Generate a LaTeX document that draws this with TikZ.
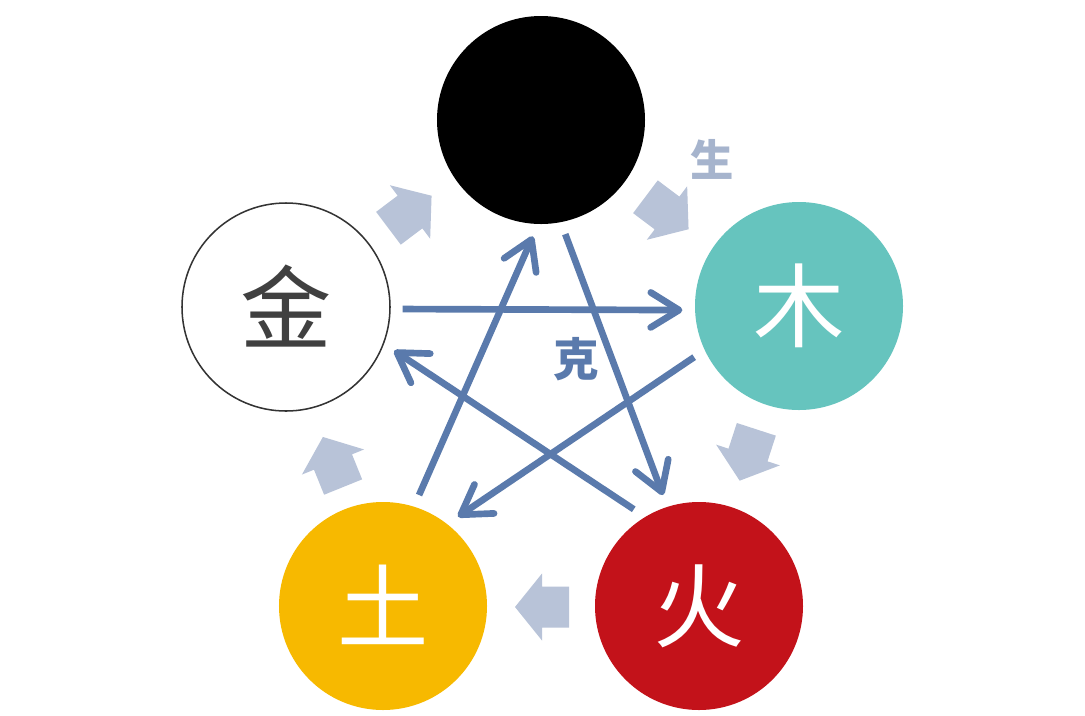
\documentclass[tikz,border=0pt]{standalone}
\usepackage{fontspec}
\usetikzlibrary{arrows.meta}
\newfontfamily\cjk{Noto Sans CJK SC}
\definecolor{shuicol}{HTML}{000000}
\definecolor{mucol}{HTML}{66C4BE}
\definecolor{huocol}{HTML}{C3121A}
\definecolor{tucol}{HTML}{F7B900}
\definecolor{jinline}{HTML}{333333}
\definecolor{jintext}{HTML}{404040}
\definecolor{kecol}{HTML}{5A7AAC}
\definecolor{shengcol}{HTML}{B8C3D8}
\definecolor{shenglabel}{HTML}{A6B4CD}
\tikzset{
  elem/.style={circle,minimum size=6.24cm,inner sep=0pt,outer sep=0.38cm,
    font=\cjk\fontsize{78}{80}\selectfont},
  ke/.style={draw=kecol,line width=0.2cm,
    -{Straight Barb[length=0.85cm,width=1.05cm,round]}},
  shengarrow/.pic={\fill[shengcol] (-27,-20.5) -- (0,-20.5) -- (0,-33.5) -- (27,0)
    -- (0,33.5) -- (0,20.5) -- (-27,20.5) -- cycle;}
}
\begin{document}
\begin{tikzpicture}[x=0.03cm,y=0.03cm]
  \path[use as bounding box,fill=white] (0,0) rectangle (1085,-715);
  \begin{scope}[every node/.style={elem}]
    \node[fill=shuicol] (shui) at (541,-120) {};
    \node[fill=mucol,text=white] (mu) at (799,-306) {\raisebox{0.18cm}{木}};
    \node[fill=huocol,text=white] (huo) at (699,-606) {\raisebox{0.18cm}{火}};
    \node[fill=tucol,text=white] (tu) at (383,-606) {\raisebox{0.18cm}{土}};
    \node[draw=jinline,line width=1.3pt,fill=white,text=jintext] (jin) at (286,-307) {\raisebox{0.18cm}{金}};
  \end{scope}
  \pic[rotate=37] at (410,-212) {shengarrow};
  \pic[rotate=-37] at (667,-213) {shengarrow};
  \pic[rotate=-108] at (748,-455) {shengarrow};
  \pic[rotate=180] at (542,-607) {shengarrow};
  \pic[rotate=112] at (333,-462) {shengarrow};
  \node[font=\cjk\bfseries\fontsize{37}{40}\selectfont,text=shenglabel] (sheng) at (712,-159) {生};
  \draw[ke] (jin.-1) -- (mu.182);
  \draw[ke] (mu.206) -- (tu.50);
  \draw[ke] (tu.72) -- (shui.266);
  \draw[ke] (shui.282) -- (huo.108);
  \draw[ke] (huo.124) -- (jin.-22);
  \node[font=\cjk\bfseries\fontsize{39}{42}\selectfont,text=kecol] (ke) at (576,-359) {克};
\end{tikzpicture}
\end{document}
